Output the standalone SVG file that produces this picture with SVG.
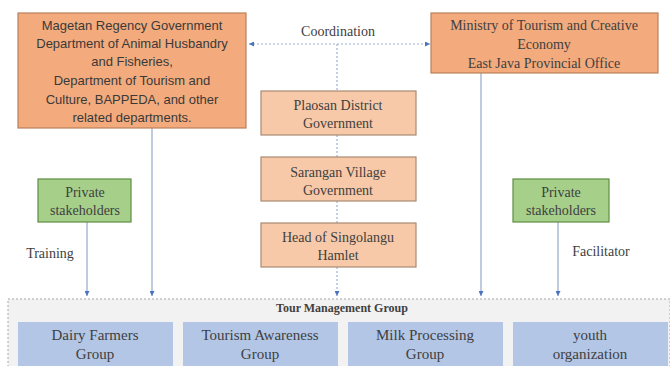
<svg xmlns="http://www.w3.org/2000/svg" width="670" height="366" viewBox="0 0 670 366">
<defs>
<marker id="arr" viewBox="0 0 6 6" refX="6" refY="3" markerWidth="5" markerHeight="5" orient="auto-start-reverse" markerUnits="userSpaceOnUse">
<path d="M0,0 L6,3 L0,6 Z" fill="#4A72C0"/>
</marker>
<style>
.orange{fill:#F3AA7C;stroke:#B9805C;stroke-width:1.2}
.light{fill:#F8C9A8;stroke:#A98A74;stroke-width:1.2}
.green{fill:#A6CF8A;stroke:#5E8E43;stroke-width:1.2}
.blue{fill:#B3C6E6}
.sans{font-family:"Liberation Sans",Arial,sans-serif;font-size:13px;fill:#3A3A3A;text-anchor:middle}
.serif{font-family:"Liberation Serif","Times New Roman",serif;font-size:14px;fill:#404040;text-anchor:middle}
.big{font-size:15px}
.line{stroke:#9DB0CF;stroke-width:1.3;fill:none}
.dot{stroke:#9DAFD2;stroke-width:1.2;stroke-dasharray:2 2;fill:none}
</style>
</defs>
<g id="tour-management-group">
<rect x="8" y="299" width="662" height="80" fill="#F2F2F2" stroke="#A6A6A6" stroke-width="1" stroke-dasharray="2 2"/>
<text x="342" y="312" class="serif" style="font-size:12px;font-weight:bold" fill="#262626">Tour Management Group</text>
</g>
<g id="dairy"><rect x="18" y="322" width="155" height="50" class="blue"/>
<text class="serif big" x="95" y="340">Dairy Farmers</text><text class="serif big" x="95" y="359">Group</text></g>
<g id="tourism-awareness"><rect x="183" y="322" width="155" height="50" class="blue"/>
<text class="serif big" x="260" y="340">Tourism Awareness</text><text class="serif big" x="260" y="359">Group</text></g>
<g id="milk"><rect x="348" y="322" width="155" height="50" class="blue"/>
<text class="serif big" x="425" y="340">Milk Processing</text><text class="serif big" x="425" y="359">Group</text></g>
<g id="youth"><rect x="513" y="322" width="155" height="50" class="blue"/>
<text class="serif big" x="590" y="340">youth</text><text class="serif big" x="590" y="359">organization</text></g>

<g id="connectors">
<line class="dot" x1="249" y1="44" x2="430" y2="44" marker-start="url(#arr)" marker-end="url(#arr)"/>
<line class="dot" x1="337" y1="44" x2="337" y2="91"/>
<line class="dot" x1="337" y1="135" x2="337" y2="157"/>
<line class="dot" x1="337" y1="201" x2="337" y2="223"/>
<line class="dot" x1="337" y1="267" x2="337" y2="296" marker-end="url(#arr)"/>
<line class="line" x1="152" y1="128" x2="152" y2="296" marker-end="url(#arr)"/>
<line class="line" x1="87" y1="222" x2="87" y2="296" marker-end="url(#arr)"/>
<line class="line" x1="481" y1="73" x2="481" y2="296" marker-end="url(#arr)"/>
<line class="line" x1="558" y1="222" x2="558" y2="296" marker-end="url(#arr)"/>
<text class="serif" x="338" y="36">Coordination</text>
<text class="serif" x="50" y="258">Training</text>
<text class="serif" x="601" y="256">Facilitator</text>
</g>

<g id="magetan">
<rect x="18" y="13" width="228" height="115" class="orange"/>
<text class="sans" x="132" y="30">Magetan Regency Government</text>
<text class="sans" x="132" y="48">Department of Animal Husbandry</text>
<text class="sans" x="132" y="66">and Fisheries,</text>
<text class="sans" x="132" y="85">Department of Tourism and</text>
<text class="sans" x="132" y="104">Culture, BAPPEDA, and other</text>
<text class="sans" x="132" y="122">related departments.</text>
</g>
<g id="ministry">
<rect x="431" y="13" width="227" height="60" class="orange"/>
<text class="serif" x="544" y="30">Ministry of Tourism and Creative</text>
<text class="serif" x="544" y="49">Economy</text>
<text class="serif" x="544" y="68">East Java Provincial Office</text>
</g>
<g id="plaosan">
<rect x="261" y="91" width="155" height="44" class="light"/>
<text class="serif" x="338" y="110">Plaosan District</text>
<text class="serif" x="338" y="128">Government</text>
</g>
<g id="sarangan">
<rect x="261" y="157" width="155" height="44" class="light"/>
<text class="serif" x="338" y="177">Sarangan Village</text>
<text class="serif" x="338" y="195">Government</text>
</g>
<g id="head">
<rect x="261" y="223" width="155" height="44" class="light"/>
<text class="serif" x="338" y="242">Head of Singolangu</text>
<text class="serif" x="338" y="260">Hamlet</text>
</g>
<g id="private-left">
<rect x="38" y="179" width="93" height="43" class="green"/>
<text class="serif" x="85" y="197">Private</text>
<text class="serif" x="85" y="215">stakeholders</text>
</g>
<g id="private-right">
<rect x="513" y="179" width="96" height="43" class="green"/>
<text class="serif" x="561" y="197">Private</text>
<text class="serif" x="561" y="215">stakeholders</text>
</g>
</svg>
